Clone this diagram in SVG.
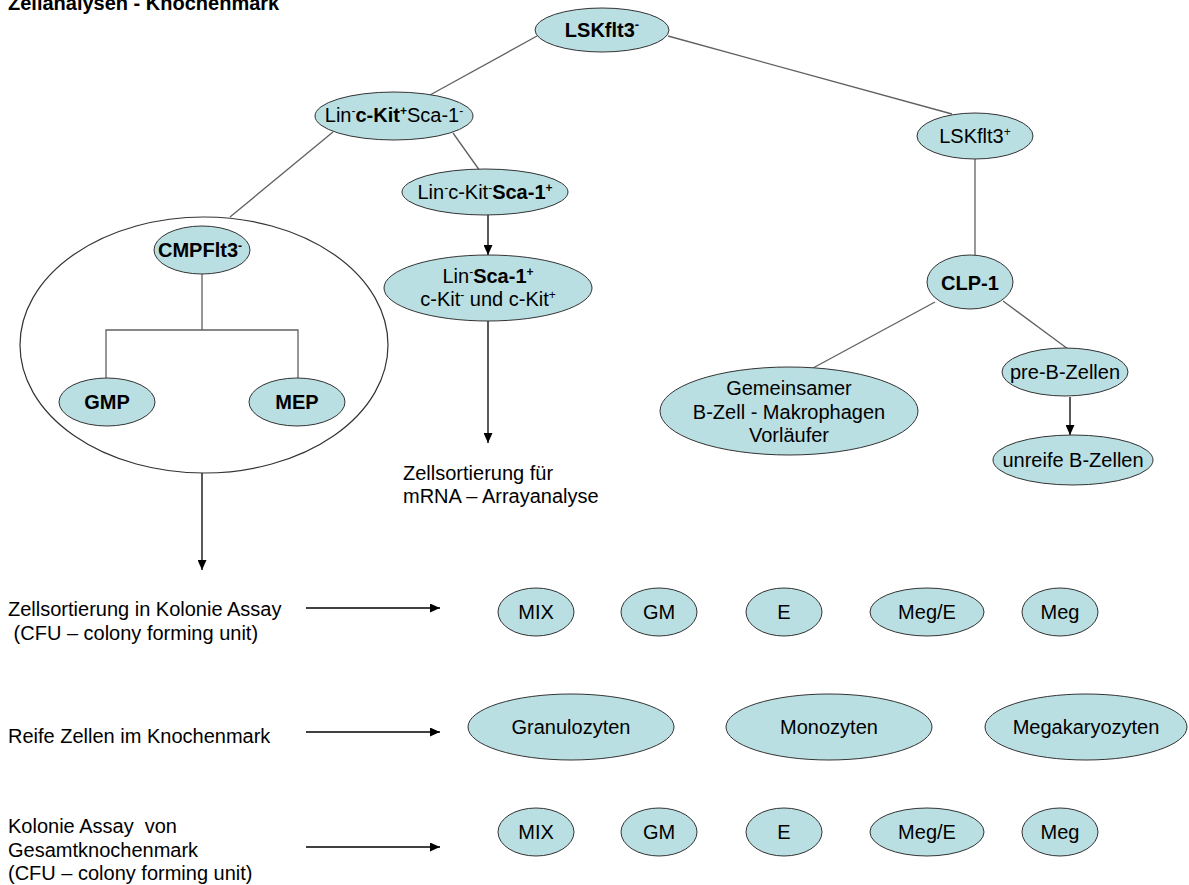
<svg xmlns="http://www.w3.org/2000/svg" width="1189" height="885" viewBox="0 0 1189 885">
<defs>
<marker id="ah" markerUnits="userSpaceOnUse" markerWidth="10" markerHeight="9" refX="10" refY="4.5" orient="auto"><path d="M0,0 L10,4.5 L0,9 z" fill="#000"/></marker>
<style>
text{font-family:"Liberation Sans",Arial,sans-serif;font-size:20px;fill:#000}
.b{font-weight:bold}
.n{fill:#b9dfe3;stroke:#333;stroke-width:1}
.c{fill:none;stroke:#606060;stroke-width:1.3}
.a{fill:none;stroke:#000;stroke-width:1.3;marker-end:url(#ah)}
.m{text-anchor:middle}
</style>
</defs>
<rect width="1189" height="885" fill="#fff"/>
<text x="8" y="10" class="b" font-size="23">Zellanalysen - Knochenmark</text>

<g id="connectors">
<line class="c" x1="537" y1="36" x2="430" y2="95"/>
<line class="c" x1="668" y1="36" x2="952" y2="114"/>
<line class="c" x1="333" y1="132" x2="230" y2="217"/>
<line class="c" x1="453" y1="133" x2="480" y2="171"/>
<line class="a" x1="488" y1="215" x2="488" y2="255"/>
<line class="a" x1="488" y1="321" x2="488" y2="443"/>
<path class="c" d="M202,274 V330 M106,378 V330 H298 V378"/>
<line class="a" x1="202" y1="473" x2="202" y2="570"/>
<line class="c" x1="975" y1="159" x2="975" y2="255"/>
<line class="c" x1="935" y1="302" x2="813" y2="368"/>
<line class="c" x1="1003" y1="301" x2="1068" y2="349"/>
<line class="a" x1="1070" y1="397" x2="1070" y2="435"/>
<line class="a" x1="306" y1="608" x2="440" y2="608"/>
<line class="a" x1="306" y1="732" x2="440" y2="732"/>
<line class="a" x1="306" y1="847" x2="440" y2="847"/>
</g>

<g id="n-lskflt3neg"><ellipse class="n" cx="602" cy="30" rx="67" ry="22"/><text class="b m" x="602" y="37" font-size="22">LSKflt3<tspan dy="-8" font-size="13">-</tspan></text></g>
<g id="n-linckitpos"><ellipse class="n" cx="394" cy="116" rx="79" ry="24"/><text class="m" x="394" y="122">Lin<tspan dy="-7" font-size="12">-</tspan><tspan dy="7" class="b">c-Kit</tspan><tspan dy="-7" font-size="12" class="b">+</tspan><tspan dy="7">Sca-1</tspan><tspan dy="-7" font-size="12">-</tspan></text></g>
<g id="n-lskflt3pos"><ellipse class="n" cx="975" cy="136" rx="58" ry="23"/><text class="m" x="975" y="143">LSKflt3<tspan dy="-7" font-size="12">+</tspan></text></g>
<g id="n-linscapos"><ellipse class="n" cx="485" cy="192" rx="83" ry="23"/><text class="m" x="485" y="199">Lin<tspan dy="-7" font-size="12">-</tspan><tspan dy="7">c-Kit</tspan><tspan dy="-7" font-size="12">-</tspan><tspan dy="7" class="b">Sca-1</tspan><tspan dy="-7" font-size="12" class="b">+</tspan></text></g>
<g id="n-linsca-ckit"><ellipse class="n" cx="488" cy="288" rx="104" ry="33"/><text class="m" x="488" y="283">Lin<tspan dy="-7" font-size="12">-</tspan><tspan dy="7" class="b">Sca-1</tspan><tspan dy="-7" font-size="12" class="b">+</tspan></text><text class="m" x="488" y="306">c-Kit<tspan dy="-7" font-size="12">-</tspan><tspan dy="7"> und c-Kit</tspan><tspan dy="-7" font-size="12">+</tspan></text></g>
<g id="n-cmp-group"><ellipse cx="204" cy="345" rx="184" ry="128" fill="none" stroke="#333" stroke-width="1.2"/></g>
<g id="n-cmp"><ellipse class="n" cx="202" cy="250" rx="48" ry="24"/><text class="b m" x="200" y="257">CMPFlt3<tspan dy="-7" font-size="12">-</tspan></text></g>
<g id="n-gmp"><ellipse class="n" cx="107" cy="402" rx="48" ry="24"/><text class="b m" x="107" y="409">GMP</text></g>
<g id="n-mep"><ellipse class="n" cx="297" cy="402" rx="48" ry="24"/><text class="b m" x="297" y="409">MEP</text></g>
<g id="n-clp1"><ellipse class="n" cx="970" cy="282" rx="43" ry="27"/><text class="b m" x="970" y="290">CLP-1</text></g>
<g id="n-gemeinsam"><ellipse class="n" cx="789" cy="411" rx="129" ry="44"/><text class="m" x="789" y="395">Gemeinsamer</text><text class="m" x="789" y="419">B-Zell - Makrophagen</text><text class="m" x="789" y="442">Vorläufer</text></g>
<g id="n-preb"><ellipse class="n" cx="1065" cy="372" rx="63" ry="24"/><text class="m" x="1065" y="379">pre-B-Zellen</text></g>
<g id="n-unreif"><ellipse class="n" cx="1073" cy="460" rx="80" ry="25"/><text class="m" x="1073" y="467">unreife B-Zellen</text></g>

<g id="label-mrna"><text x="403" y="480">Zellsortierung für</text><text x="403" y="503">mRNA – Arrayanalyse</text></g>
<g id="label-row1"><text x="8" y="616">Zellsortierung in Kolonie Assay</text><text x="8" y="640" xml:space="preserve"> (CFU – colony forming unit)</text></g>
<g id="label-row2"><text x="8" y="743">Reife Zellen im Knochenmark</text></g>
<g id="label-row3"><text x="8" y="833" xml:space="preserve">Kolonie Assay  von</text><text x="8" y="857">Gesamtknochenmark</text><text x="8" y="880">(CFU – colony forming unit)</text></g>

<g id="r1-mix"><ellipse class="n" cx="536" cy="612" rx="38" ry="24"/><text class="m" x="536" y="619">MIX</text></g>
<g id="r1-gm"><ellipse class="n" cx="659" cy="612" rx="38" ry="24"/><text class="m" x="659" y="619">GM</text></g>
<g id="r1-e"><ellipse class="n" cx="784" cy="612" rx="38" ry="24"/><text class="m" x="784" y="619">E</text></g>
<g id="r1-mege"><ellipse class="n" cx="927" cy="612" rx="57" ry="24"/><text class="m" x="927" y="619">Meg/E</text></g>
<g id="r1-meg"><ellipse class="n" cx="1060" cy="612" rx="38" ry="24"/><text class="m" x="1060" y="619">Meg</text></g>

<g id="r2-granulo"><ellipse class="n" cx="571" cy="727" rx="103" ry="33"/><text class="m" x="571" y="734">Granulozyten</text></g>
<g id="r2-mono"><ellipse class="n" cx="829" cy="727" rx="103" ry="33"/><text class="m" x="829" y="734">Monozyten</text></g>
<g id="r2-mega"><ellipse class="n" cx="1086" cy="727" rx="101" ry="33"/><text class="m" x="1086" y="734">Megakaryozyten</text></g>

<g id="r3-mix"><ellipse class="n" cx="536" cy="832" rx="38" ry="24"/><text class="m" x="536" y="839">MIX</text></g>
<g id="r3-gm"><ellipse class="n" cx="659" cy="832" rx="38" ry="24"/><text class="m" x="659" y="839">GM</text></g>
<g id="r3-e"><ellipse class="n" cx="784" cy="832" rx="38" ry="24"/><text class="m" x="784" y="839">E</text></g>
<g id="r3-mege"><ellipse class="n" cx="927" cy="832" rx="57" ry="24"/><text class="m" x="927" y="839">Meg/E</text></g>
<g id="r3-meg"><ellipse class="n" cx="1060" cy="832" rx="38" ry="24"/><text class="m" x="1060" y="839">Meg</text></g>
</svg>
